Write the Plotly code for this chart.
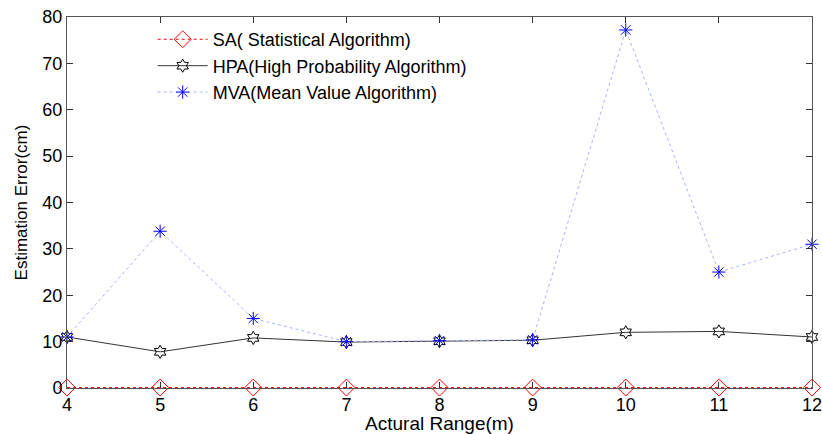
import plotly.graph_objects as go

x_range = [4, 5, 6, 7, 8, 9, 10, 11, 12]
sa_err = [0.1, 0.1, 0.1, 0.1, 0.1, 0.1, 0.1, 0.1, 0.1]
hpa_err = [11.0, 7.8, 10.8, 9.9, 10.1, 10.3, 12.0, 12.2, 11.0]
mva_err = [11.0, 33.8, 15.0, 10.0, 10.2, 10.4, 77.2, 25.0, 31.0]
y_ticks = [0, 10, 20, 30, 40, 50, 60, 70, 80]

fig = go.Figure()
fig.add_trace(go.Scatter(
    x=x_range, y=sa_err, mode="lines+markers", cliponaxis=False,
    name="SA( Statistical Algorithm)",
    line=dict(color="red", width=1, dash="dot"),
    marker=dict(symbol="diamond-open", size=13, color="red", line=dict(width=1)),
))
fig.add_trace(go.Scatter(
    x=x_range, y=hpa_err, mode="lines+markers", cliponaxis=False,
    name="HPA(High Probability Algorithm)",
    line=dict(color="#333333", width=1),
    marker=dict(symbol="hexagram-open", size=10, color="black", line=dict(width=1)),
))
fig.add_trace(go.Scatter(
    x=x_range, y=mva_err, mode="lines+markers", cliponaxis=False,
    name="MVA(Mean Value Algorithm)",
    line=dict(color="#aab4ff", width=1, dash="dot"),
    marker=dict(symbol="asterisk-open", size=11, color="blue", line=dict(width=1, color="blue")),
))

axis_common = dict(
    showline=True, linecolor="#555555", linewidth=1, mirror="ticks",
    ticks="inside", ticklen=6, tickcolor="#333333",
    showgrid=False, zeroline=False, automargin=False,
    ticklabeloverflow="allow",
    tickfont=dict(family="Liberation Sans, Arial, sans-serif", size=18, color="black"),
)

fig.update_layout(
    width=822, height=434,
    margin=dict(l=67, r=10, t=17, b=46),
    paper_bgcolor="white", plot_bgcolor="white",
    font=dict(family="Liberation Sans, Arial, sans-serif", size=16, color="black"),
    xaxis=dict(range=[4, 12], tickvals=x_range, ticklabelstandoff=0,
               title=dict(text="Actural Range(m)", standoff=0, font=dict(size=19)), **axis_common),
    yaxis=dict(range=[0, 80], tickvals=y_ticks, ticklabelstandoff=0,
               title=dict(text="Estimation Error(cm)", standoff=10, font=dict(size=17)), **axis_common),
    showlegend=True,
    legend=dict(x=0.115, y=0.989, xanchor="left", yanchor="top", bgcolor="rgba(0,0,0,0)",
                font=dict(size=18), itemwidth=50, tracegroupgap=0),
)

fig.write_html("out.html", config={"displayModeBar": False},
               post_script="document.body.style.margin='0';document.body.style.overflow='hidden';")
